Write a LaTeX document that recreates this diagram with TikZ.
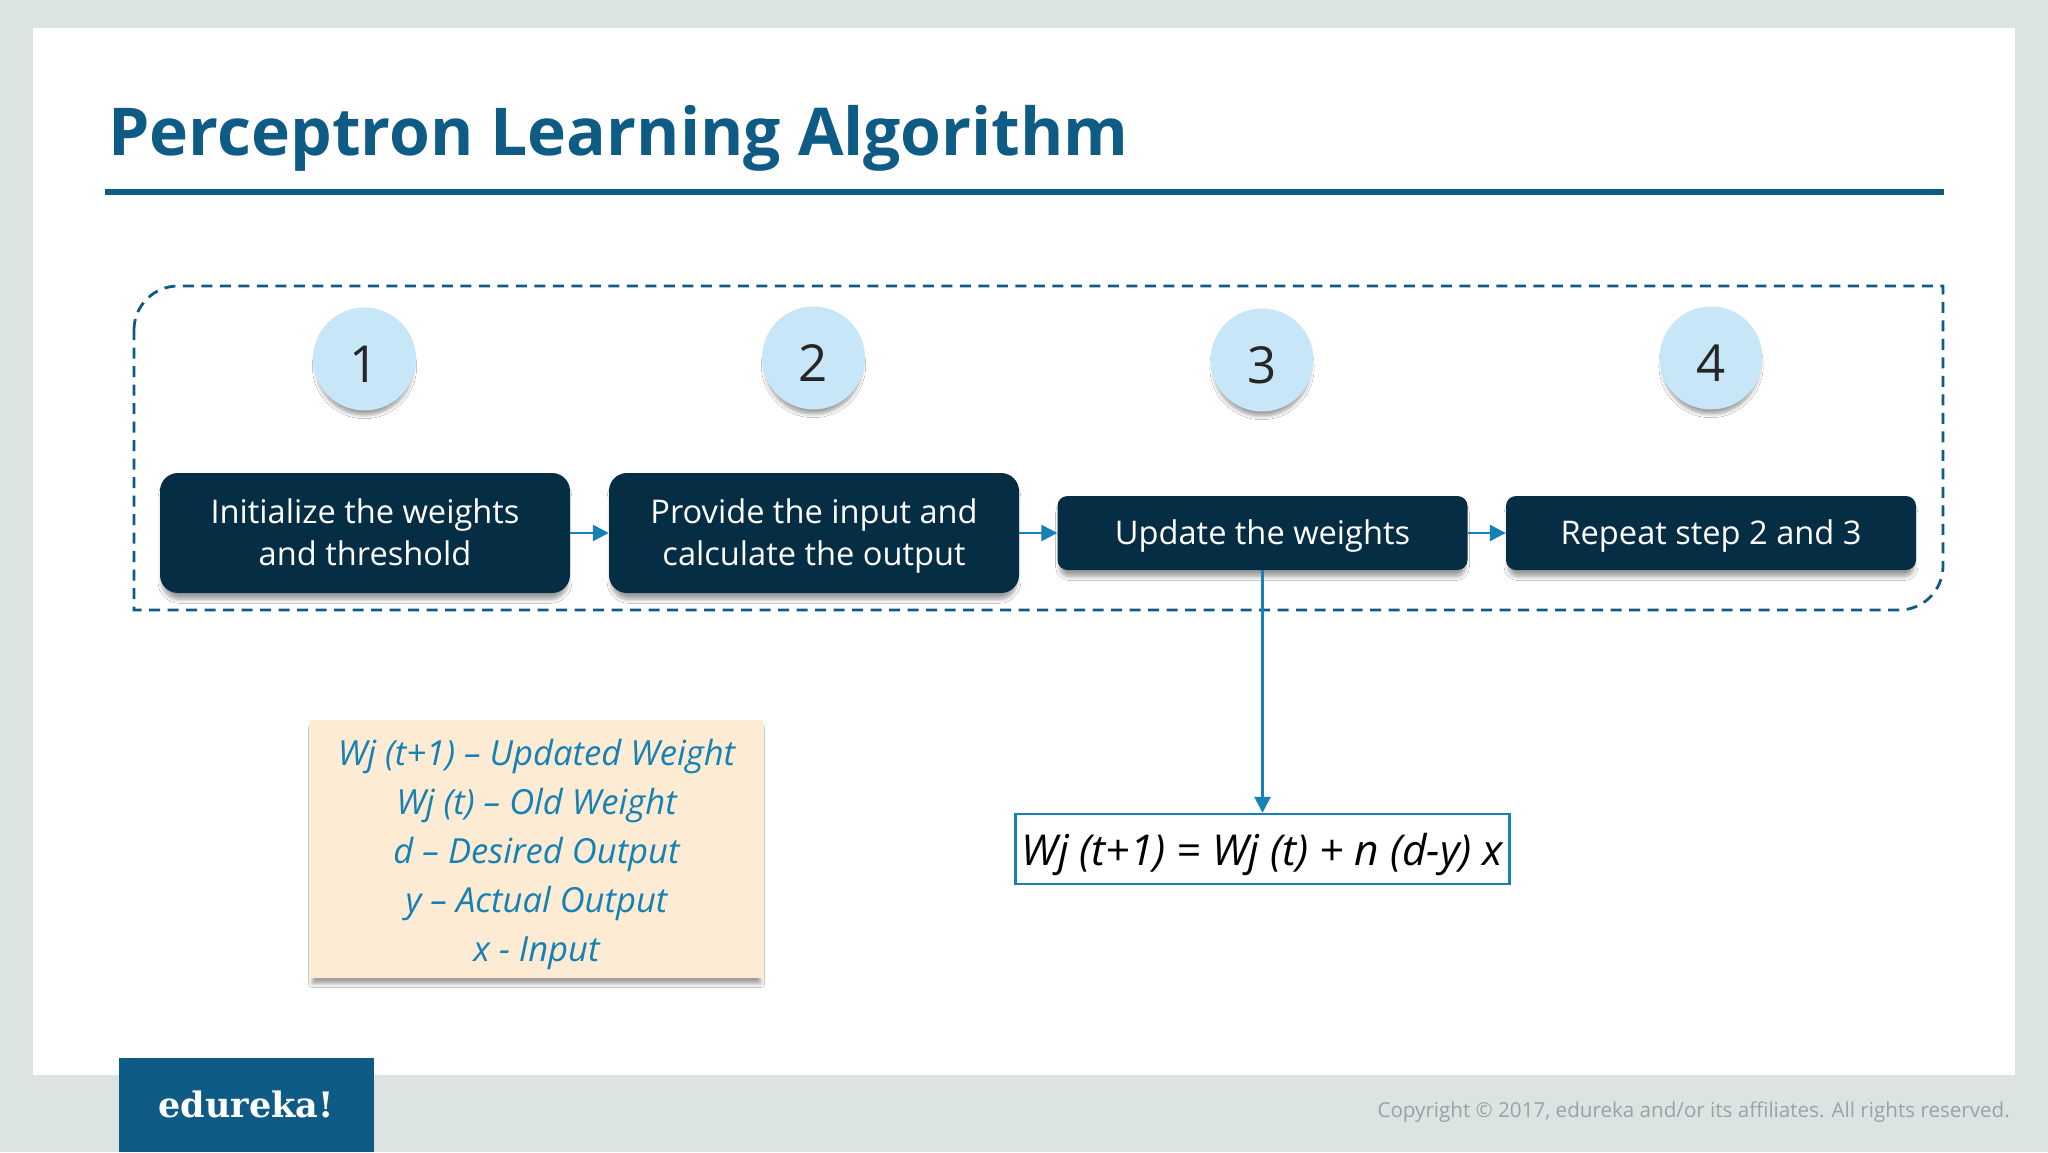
\documentclass[tikz,border=0pt]{standalone}
\usepackage{fontspec}
\setmainfont{Open Sans}
\newfontfamily\slabfont{DejaVu Serif}
\usetikzlibrary{arrows.meta,shadows,shadows.blur}
\definecolor{pagebg}{HTML}{DCE3E3}
\definecolor{brand}{HTML}{0E5B85}
\definecolor{navy}{HTML}{052E44}
\definecolor{sky}{HTML}{C7E7F9}
\definecolor{flow}{HTML}{1581B5}
\definecolor{cream}{HTML}{FDEBD3}
\definecolor{copy}{HTML}{9AA3A3}
\newcommand{\fs}[2]{\fontsize{#1pt}{#2pt}\selectfont}
\newcommand{\dropby}[2]{\raisebox{-#1}[\height][\depth]{#2}}
\tikzset{
  softshadow/.style={blur shadow={shadow xshift=0pt,shadow yshift=-7pt,shadow blur steps=8,shadow blur radius=4pt,shadow opacity=38,shadow scale=.99}},
  roundshadow/.style={blur shadow={shadow xshift=0pt,shadow yshift=-8pt,shadow blur steps=8,shadow blur radius=4pt,shadow opacity=40,shadow scale=.94}},
  numcircle/.style={circle,fill=sky,minimum size=103pt,inner sep=0pt,text=black!85,font=\fs{51}{51},roundshadow},
  stepbox/.style={rounded corners=#1,fill=navy,text=white,minimum width=410pt,inner sep=0pt,font=\fs{32.6}{41.5},softshadow},
  flowline/.style={draw=flow,line width=2.6pt,-{Triangle[length=16pt,width=16pt]}},
}
\begin{document}
\begin{tikzpicture}[x=1pt,y=-1pt]
\useasboundingbox (0,0) rectangle (2048,1152);
\fill[pagebg] (0,0) rectangle (2048,1152);
\fill[white] (33,28) rectangle (2015,1075);
% title and rule
\node[anchor=base west,inner sep=0pt,text=brand,font=\fs{66}{66}\bfseries] (title) at (108,155) {Perceptron Learning Algorithm};
\fill[brand] (105,189) rectangle (1944,195);
% dashed frame
\draw[brand,line width=2.8pt,dash pattern=on 11pt off 7.5pt]
  (134,330) arc[start angle=180,end angle=270,radius=44] -- (1943,286) -- (1943,566)
  arc[start angle=0,end angle=90,radius=44] -- (134,610) -- cycle;
% numbered circles
\node[numcircle] (c1) at (364.5,359) {\dropby{5pt}{1}};
\node[numcircle] (c2) at (813.5,358) {\dropby{5pt}{2}};
\node[numcircle] (c3) at (1262,360) {\dropby{5pt}{3}};
\node[numcircle] (c4) at (1711,358) {\dropby{5pt}{4}};
% steps
\node[stepbox=18pt,minimum height=120pt] (s1) at (365,533) {\dropby{3pt}{\parbox{400pt}{\centering\strut Initialize the weights\\\strut and threshold}}};
\node[stepbox=18pt,minimum height=120pt] (s2) at (814,533) {\dropby{3pt}{\parbox{400pt}{\centering\strut Provide the input and\\\strut calculate the output}}};
\node[stepbox=10pt,minimum height=74pt] (s3) at (1262.5,533) {\dropby{3pt}{\strut Update the weights}};
\node[stepbox=10pt,minimum height=74pt] (s4) at (1711,533) {\dropby{3pt}{\strut Repeat step 2 and 3}};
\draw[flowline] (s1.east) -- (s2.west);
\draw[flowline] (s2.east) -- (s3.west);
\draw[flowline] (s3.east) -- (s4.west);
% formula
\node[draw=flow,line width=2.4pt,fill=white,minimum width=494pt,minimum height=70pt,inner sep=0pt,font=\fs{42.5}{42.5}\itshape,text=black] (formula) at (1262.5,849) {\dropby{5pt}{Wj (t+1) = Wj (t) + n (d-y) x}};
\draw[flowline] (s3.south) -- (formula.north);
% legend
\node[fill=cream,minimum width=453pt,minimum height=258pt,inner sep=0pt,text=flow,font=\fs{34.6}{49}\itshape,softshadow] (legend) at (536.5,849) {\dropby{5pt}{\parbox{440pt}{\centering Wj (t+1) – Updated Weight\\Wj (t) – Old Weight\\d – Desired Output\\y – Actual Output\\x - Input}}};
% footer
\node[fill=brand,minimum width=255pt,minimum height=94pt,inner sep=0pt] (logo) at (246.5,1105) {};
\node[anchor=base,inner sep=0pt,text=white,font=\slabfont\fs{35}{35}\bfseries] (logotext) at (246,1117) {edureka!};
\node[anchor=base east,inner sep=0pt,text=copy,font=\fs{20.6}{20.6}] (copyright) at (2010,1117) {Copyright © 2017, edureka and/or its affiliates. All rights reserved.};
\end{tikzpicture}
\end{document}
